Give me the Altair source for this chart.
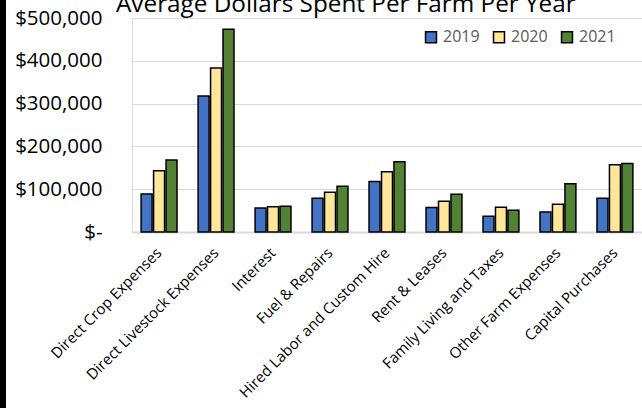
import altair as alt
import pandas as pd

categories = [
    "Direct Crop Expenses",
    "Direct Livestock Expenses",
    "Interest",
    "Fuel & Repairs",
    "Hired Labor and Custom Hire",
    "Rent & Leases",
    "Family Living and Taxes",
    "Other Farm Expenses",
    "Capital Purchases",
]
years = ["2019", "2020", "2021"]
v2019 = [89000, 318000, 56000, 79000, 118000, 57000, 37000, 47000, 79000]
v2020 = [143000, 383000, 59000, 93000, 141000, 72000, 58000, 65000, 157000]
v2021 = [168000, 474000, 60000, 107000, 164000, 88000, 51000, 113000, 160000]
colors = ["#4472C4", "#FFE699", "#548235"]

rows = []
for yr, vals in zip(years, [v2019, v2020, v2021]):
    for c, v in zip(categories, vals):
        rows.append({"category": c, "year": yr, "value": v})
df = pd.DataFrame(rows)

font = "Open Sans"

bars = alt.Chart(df).mark_bar(stroke="black", strokeWidth=1.5).encode(
    x=alt.X(
        "category:N",
        sort=categories,
        title=None,
        scale=alt.Scale(paddingInner=0.37, paddingOuter=0.16),
        axis=alt.Axis(
            labelAngle=-45,
            labelAlign="right",
            labelBaseline="middle",
            labelPadding=18,
            labelFont=font,
            labelFontSize=15,
            labelColor="#000000",
            ticks=False,
            domainColor="#D9D9D9",
            domainWidth=2,
            labelLimit=400,
        ),
    ),
    xOffset=alt.XOffset("year:N", sort=years, scale=alt.Scale(paddingInner=0.12)),
    y=alt.Y(
        "value:Q",
        title=None,
        scale=alt.Scale(domain=[0, 500000], nice=False),
        axis=alt.Axis(
            values=[0, 100000, 200000, 300000, 400000, 500000],
            labelExpr="datum.value == 0 ? '$-\u00a0\u00a0' : '$' + format(datum.value, ',')",
            labelFont=font,
            labelFontSize=20.5,
            labelColor="#000000",
            labelPadding=30,
            ticks=False,
            domain=False,
            gridColor="#D9D9D9",
            gridWidth=1.2,
        ),
    ),
    color=alt.Color(
        "year:N",
        sort=years,
        scale=alt.Scale(domain=years, range=colors),
        legend=alt.Legend(
            title=None,
            orient="none",
            direction="horizontal",
            legendX=291,
            legendY=11,
            symbolType="square",
            symbolSize=120,
            symbolStrokeColor="black",
            symbolStrokeWidth=1.5,
            symbolOpacity=1,
            labelFont=font,
            labelFontSize=16,
            labelColor="#595959",
            labelOffset=4,
            columnPadding=10,
        ),
    ),
)

strip = alt.Chart(pd.DataFrame({"d": [0]})).mark_rect(color="black", clip=False).encode(
    x=alt.value(-132), x2=alt.value(-126), y=alt.value(-18), y2=alt.value(390)
)

chart = alt.layer(strip, bars).properties(
    width=510,
    height=214,
    padding={"left": 132, "top": 18, "right": 0, "bottom": 176},
    autosize=alt.AutoSizeParams(type="none"),
    title=alt.TitleParams(
        "Average Dollars Spent Per Farm Per Year",
        anchor="start",
        frame="group",
        dx=-16,
        dy=36,
        font=font,
        fontSize=24.3,
        fontWeight="normal",
        color="#000000",
        baseline="alphabetic",
        offset=0,
    ),
).configure_view(stroke=None).configure(background="white")

chart.save("out.html", embed_options={"renderer": "svg", "actions": False})
